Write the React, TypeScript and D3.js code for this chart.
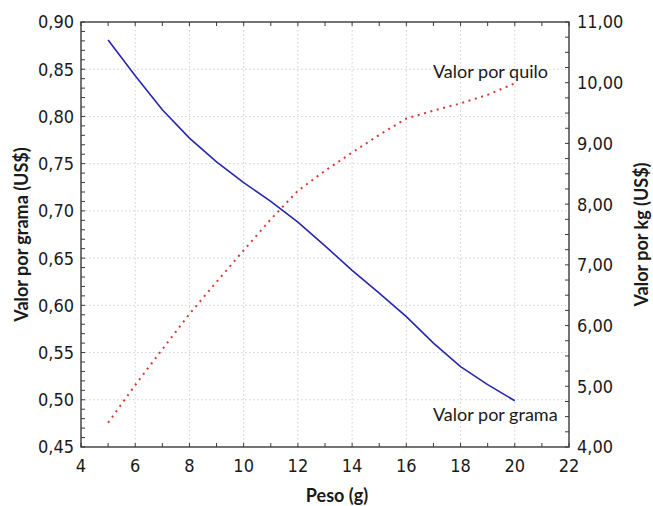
import React from "react";
import * as d3 from "d3";

const weights = [5, 6, 7, 8, 9, 10, 11, 12, 13, 14, 15, 16, 17, 18, 19, 20];
const valuePerGram = [0.881, 0.843, 0.807, 0.777, 0.752, 0.73, 0.71, 0.688, 0.663, 0.637, 0.613, 0.588, 0.56, 0.535, 0.516, 0.499];
const valuePerKg = [4.4, 5.02, 5.61, 6.19, 6.72, 7.24, 7.75, 8.22, 8.55, 8.85, 9.14, 9.41, 9.54, 9.66, 9.8, 9.99];
const xTicks = [4, 6, 8, 10, 12, 14, 16, 18, 20, 22];
const leftTicks = [0.45, 0.5, 0.55, 0.6, 0.65, 0.7, 0.75, 0.8, 0.85, 0.9];
const rightTicks = [4, 5, 6, 7, 8, 9, 10, 11];

const W = 653, H = 506;
const M = { left: 81, right: 569, top: 22, bottom: 447 };

export default function App() {
  const x = d3.scaleLinear().domain([4, 22]).range([M.left, M.right]);
  const yL = d3.scaleLinear().domain([0.45, 0.9]).range([M.bottom, M.top]);
  const yR = d3.scaleLinear().domain([4, 11]).range([M.bottom, M.top]);

  const fmt2 = (v: number) => v.toFixed(2).replace(".", ",");
  const gramLine = d3.line<number>().x((_, i) => x(weights[i])).y((d) => yL(d));
  const kgLine = d3.line<number>().x((_, i) => x(weights[i])).y((d) => yR(d));

  const xMinor = d3.range(4, 22.001, 1);
  const lMinor = d3.range(0, 46).map((i) => 0.45 + i * 0.01);
  const rMinor = d3.range(0, 29).map((i) => 4 + i * 0.25);
  const T = 4;
  const axisColor = "#3a3a3a";
  const tickFont = "'DejaVu Sans Condensed', 'DejaVu Sans', sans-serif";
  const titleFont = "Lato, 'Open Sans', sans-serif";

  return (
    <svg width={W} height={H} style={{ position: "absolute", left: 0, top: 0, background: "#fff" }}>
      {/* grid */}
      <g stroke="#d0d0d0" strokeWidth={1} strokeDasharray="1.5,2.5">
        {xTicks.slice(1, -1).map((t) => (
          <line key={"gx" + t} x1={x(t)} x2={x(t)} y1={M.top} y2={M.bottom} />
        ))}
        {leftTicks.slice(1, -1).map((t) => (
          <line key={"gy" + t} x1={M.left} x2={M.right} y1={yL(t)} y2={yL(t)} />
        ))}
      </g>

      {/* data lines */}
      <path d={gramLine(valuePerGram) || ""} fill="none" stroke="#2626b0" strokeWidth={1.6} />
      <path d={kgLine(valuePerKg) || ""} fill="none" stroke="#d43a34" strokeWidth={2} strokeDasharray="2,4.6" />

      {/* frame */}
      <rect x={M.left} y={M.top} width={M.right - M.left} height={M.bottom - M.top} fill="none" stroke={axisColor} strokeWidth={1.4} />

      {/* ticks */}
      <g stroke={axisColor} strokeWidth={1}>
        {xMinor.map((t) => (
          <g key={"xt" + t}>
            <line x1={x(t)} x2={x(t)} y1={M.bottom} y2={M.bottom - T} />
            <line x1={x(t)} x2={x(t)} y1={M.top} y2={M.top + T} />
          </g>
        ))}
        {lMinor.map((t, i) => (
          <line key={"lt" + i} x1={M.left} x2={M.left + T} y1={yL(t)} y2={yL(t)} />
        ))}
        {rMinor.map((t, i) => (
          <line key={"rt" + i} x1={M.right} x2={M.right - T} y1={yR(t)} y2={yR(t)} />
        ))}
      </g>

      {/* tick labels */}
      <g fontFamily={tickFont} fontSize={18} fill="#1a1a1a">
        {xTicks.map((t) => (
          <text key={"xl" + t} x={x(t)} y={472} textAnchor="middle">{t}</text>
        ))}
        {leftTicks.map((t) => (
          <text key={"ll" + t} x={74} y={yL(t)} dy="0.36em" textAnchor="end">{fmt2(t)}</text>
        ))}
        {rightTicks.map((t) => (
          <text key={"rl" + t} x={577} y={yR(t)} dy="0.36em" textAnchor="start">{fmt2(t)}</text>
        ))}
      </g>

      {/* annotations */}
      <g fontFamily={titleFont} fontSize={18} fill="#1a1a1a">
        <text x={433} y={78}>Valor por quilo</text>
        <text x={433} y={421}>Valor por grama</text>
      </g>

      {/* axis titles */}
      <g fontFamily={titleFont} fontSize={18} fontWeight="bold" fill="#1a1a1a">
        <text x={337} y={502} textAnchor="middle">Peso (g)</text>
        <text transform={`translate(28,${(M.top + M.bottom) / 2}) rotate(-90)`} textAnchor="middle">Valor por grama (US$)</text>
        <text transform={`translate(648,${(M.top + M.bottom) / 2}) rotate(-90)`} textAnchor="middle">Valor por kg (US$)</text>
      </g>
    </svg>
  );
}
